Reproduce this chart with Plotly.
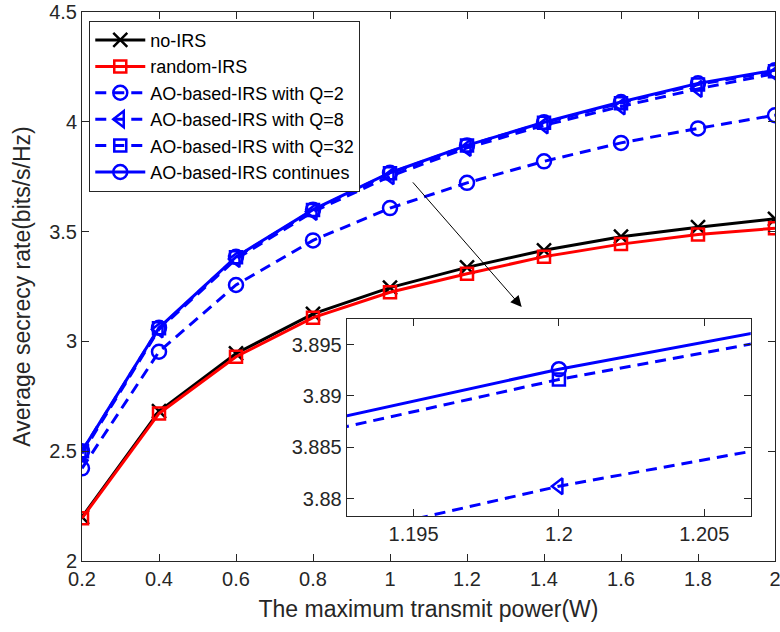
import plotly.graph_objects as go

power = [0.2, 0.4, 0.6, 0.8, 1.0, 1.2, 1.4, 1.6, 1.8, 2.0]
no_irs = [2.200, 2.682, 2.945, 3.125, 3.245, 3.337, 3.415, 3.477, 3.520, 3.558]
random_irs = [2.195, 2.672, 2.930, 3.108, 3.224, 3.308, 3.386, 3.443, 3.487, 3.515]
ao_q2 = [2.422, 2.953, 3.257, 3.460, 3.607, 3.722, 3.820, 3.904, 3.970, 4.030]
ao_q8 = [2.490, 3.055, 3.375, 3.590, 3.752, 3.8812, 3.984, 4.070, 4.150, 4.220]
ao_q32 = [2.500, 3.060, 3.383, 3.598, 3.766, 3.8916, 3.996, 4.085, 4.170, 4.230]
ao_cont = [2.500, 3.062, 3.385, 3.600, 3.768, 3.8926, 3.998, 4.090, 4.175, 4.235]

names = ["no-IRS", "random-IRS", "AO-based-IRS with Q=2", "AO-based-IRS with Q=8",
         "AO-based-IRS with Q=32", "AO-based-IRS continues"]
series = [no_irs, random_irs, ao_q2, ao_q8, ao_q32, ao_cont]
colors = ["#000000", "#ff0000", "#0000ff", "#0000ff", "#0000ff", "#0000ff"]
symbols = ["x-thin-open", "square-open", "circle-open", "triangle-left-open", "square-open", "circle-open"]
dashes = ["solid", "solid", "11px,7px", "11px,7px", "11px,7px", "solid"]
msizes = [14, 12, 14, 14, 12, 14]

main_xticks = [0.2, 0.4, 0.6, 0.8, 1.0, 1.2, 1.4, 1.6, 1.8, 2.0]
main_xlabels = ["0.2", "0.4", "0.6", "0.8", "1", "1.2", "1.4", "1.6", "1.8", "2"]
main_yticks = [2, 2.5, 3, 3.5, 4, 4.5]
main_ylabels = ["2", "2.5", "3", "3.5", "4", "4.5"]
inset_xticks = [1.195, 1.2, 1.205]
inset_xlabels = ["1.195", "1.2", "1.205"]
inset_yticks = [3.88, 3.885, 3.89, 3.895]
inset_ylabels = ["3.88", "3.885", "3.89", "3.895"]

FONT = "Liberation Sans, Arial, sans-serif"
AX = "#262626"

fig = go.Figure()
for i, (n, s) in enumerate(zip(names, series)):
    fig.add_trace(go.Scatter(
        x=power, y=s, name=n, mode="lines+markers",
        line=dict(color=colors[i], width=3, dash=dashes[i]),
        marker=dict(symbol=symbols[i], size=msizes[i], color=colors[i],
                    line=dict(color=colors[i], width=2.5)),
        xaxis="x", yaxis="y"))
for i, (n, s) in enumerate(zip(names, series)):
    fig.add_trace(go.Scatter(
        x=power, y=s, name=n, mode="lines+markers", showlegend=False,
        line=dict(color=colors[i], width=3, dash=dashes[i]),
        marker=dict(symbol=symbols[i], size=msizes[i], color=colors[i],
                    line=dict(color=colors[i], width=2.5)),
        xaxis="x2", yaxis="y2"))

axis_common = dict(showline=True, linecolor=AX, linewidth=1, mirror="ticks",
                   ticks="inside", ticklen=7, tickcolor=AX, showgrid=False,
                   zeroline=False, automargin=False, ticklabeloverflow="allow",
                   tickfont=dict(family=FONT, size=20, color=AX))

fig.update_layout(
    width=780, height=632,
    margin=dict(l=82, r=5, t=12, b=71, autoexpand=False),
    paper_bgcolor="white", plot_bgcolor="white",
    font=dict(family=FONT, color=AX),
    xaxis=dict(range=[0.2, 2.0], tickvals=main_xticks, ticktext=main_xlabels,
               domain=[0, 1],
               title=dict(text="The maximum transmit power(W)",
                          font=dict(family=FONT, size=23, color=AX), standoff=11),
               **axis_common),
    yaxis=dict(range=[2, 4.5], tickvals=main_yticks, ticktext=main_ylabels,
               domain=[0, 1],
               title=dict(text="Average secrecy rate(bits/s/Hz)",
                          font=dict(family=FONT, size=23, color=AX), standoff=12),
               **axis_common),
    xaxis2=dict(range=[1.1927, 1.2066], tickvals=inset_xticks, ticktext=inset_xlabels,
                domain=[0.382, 0.965], anchor="y2", **axis_common),
    yaxis2=dict(range=[3.8783, 3.8975], tickvals=inset_yticks, ticktext=inset_ylabels,
                domain=[0.082, 0.441], anchor="x2", **axis_common),
    legend=dict(x=0.0105, y=0.984, xanchor="left", yanchor="top",
                bgcolor="white", bordercolor=AX, borderwidth=1,
                font=dict(family=FONT, size=18, color="#000000"),
                itemwidth=50, tracegroupgap=0),
    showlegend=True,
)

fig.add_annotation(x=1.342, y=3.157, ax=1.056, ay=3.731, xref="x", yref="y",
                   axref="x", ayref="y", showarrow=True, arrowhead=2,
                   arrowsize=2.2, arrowwidth=1, arrowcolor="#000000", text="")

fig.write_html("out.html", config={"displayModeBar": False},
               post_script="document.body.style.margin='0px';document.body.style.padding='0px';")
